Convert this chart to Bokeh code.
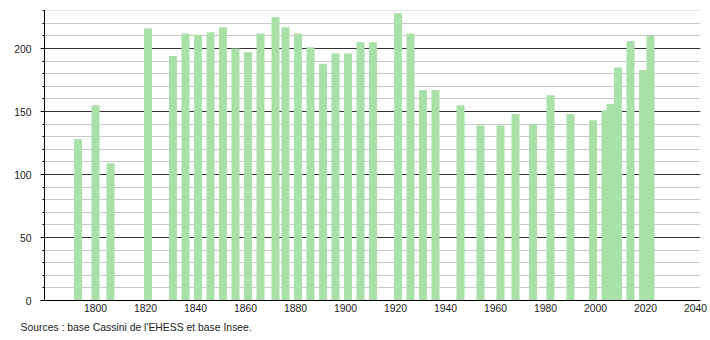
from bokeh.plotting import figure
from bokeh.models import FixedTicker, Title, Range1d, ColumnDataSource
from bokeh.embed import file_html
from bokeh.resources import INLINE

years = [1793, 1800, 1806, 1821, 1831, 1836, 1841, 1846, 1851, 1856, 1861, 1866,
         1872, 1876, 1881, 1886, 1891, 1896, 1901, 1906, 1911, 1921, 1926, 1931,
         1936, 1946, 1954, 1962, 1968, 1975, 1982, 1990, 1999, 2004, 2006, 2009,
         2014, 2019, 2022]
population = [128, 155, 109, 216, 194, 212, 211, 213, 217, 200, 197, 212,
              225, 217, 212, 201, 188, 196, 196, 205, 205, 228, 212, 167,
              167, 155, 139, 139, 148, 140, 163, 148, 143, 151, 156, 185,
              206, 183, 210]
x_ticks = [1800, 1820, 1840, 1860, 1880, 1900, 1920, 1940, 1960, 1980, 2000, 2020, 2040]
y_ticks = [0, 50, 100, 150, 200]
source_text = "Sources : base Cassini de l'EHESS et base Insee."

FONT = "Liberation Sans"
FS = "10.4px"

p = figure(width=710, height=340, output_backend="svg", toolbar_location=None,
           x_range=Range1d(1779.6, 2042), y_range=Range1d(0, 230.2),
           min_border_left=44, min_border_right=10, min_border_top=10, min_border_bottom=40)
p.outline_line_color = None
p.background_fill_color = "white"
p.border_fill_color = "white"

src = ColumnDataSource(dict(x=years, top=population))
p.vbar(x="x", top="top", width=3.2, bottom=0, source=src,
       fill_color="#a8e0a8", line_color=None)

minor = [v for v in range(0, 240, 10)]
p.xgrid.grid_line_color = None
p.ygrid.ticker = FixedTicker(ticks=[50, 100, 150, 200],
                             minor_ticks=[v for v in minor if v % 50 != 0 and v > 0])
p.ygrid.grid_line_color = "#333333"
p.ygrid.grid_line_width = 1
p.ygrid.minor_grid_line_color = "#c8c8c8"
p.ygrid.minor_grid_line_width = 1

p.yaxis.ticker = FixedTicker(ticks=y_ticks, minor_ticks=minor)
p.yaxis.axis_line_color = "black"
p.yaxis.major_tick_out = 4
p.yaxis.major_tick_in = 0
p.yaxis.minor_tick_out = 2
p.yaxis.minor_tick_in = 0
p.yaxis.major_tick_line_color = "black"
p.yaxis.minor_tick_line_color = "black"
p.yaxis.major_label_standoff = 9
p.yaxis.major_label_text_font = FONT
p.yaxis.major_label_text_font_size = FS
p.yaxis.major_label_text_color = "#222222"

p.xaxis.ticker = FixedTicker(ticks=x_ticks)
p.xaxis.axis_line_color = "black"
p.xaxis.major_tick_out = 0
p.xaxis.major_tick_in = 0
p.xaxis.minor_tick_line_color = None
p.xaxis.major_tick_line_color = None
p.xaxis.major_label_standoff = 3
p.xaxis.major_label_text_font = FONT
p.xaxis.major_label_text_font_size = FS
p.xaxis.major_label_text_color = "#222222"

t = Title(text=source_text, align="left", offset=-24, standoff=10,
          text_font=FONT, text_font_size=FS, text_color="#222222",
          text_font_style="normal")
p.add_layout(t, "below")

open("out.html", "w").write(file_html(p, INLINE))
